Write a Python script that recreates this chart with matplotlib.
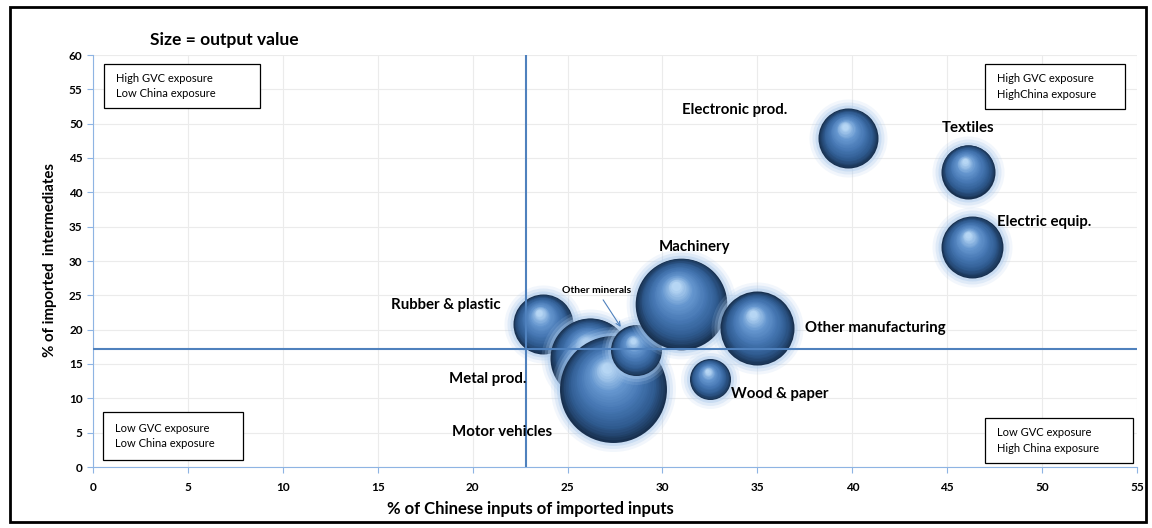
import numpy as np
import matplotlib.pyplot as plt
from matplotlib.colors import LinearSegmentedColormap
from matplotlib.patches import Rectangle

plt.rcParams['font.family'] = ['Lato', 'DejaVu Sans']

sectors = ["Rubber & plastic", "Metal prod.", "Motor vehicles", "Other minerals",
           "Machinery", "Other manufacturing", "Wood & paper",
           "Electronic prod.", "Textiles", "Electric equip."]
china_share = [23.7, 26.2, 27.4, 28.6, 31.0, 35.0, 32.5, 39.8, 46.1, 46.3]
imported_share = [20.8, 15.9, 11.4, 17.0, 23.8, 20.2, 12.8, 47.9, 43.0, 32.0]
output_value = [900, 1600, 2860, 650, 2100, 1370, 420, 900, 730, 960]

gvc_avg = 17.2
china_avg = 22.8

quadrants = ["High GVC exposure\nLow China exposure",
             "High GVC exposure\nHighChina exposure",
             "Low GVC exposure\nLow China exposure",
             "Low GVC exposure\nHigh China exposure"]

# label offsets in pixels from bubble centre
label_pos = {
    "Rubber & plastic": (-97, 19, "center"),
    "Metal prod.": (-103, -21, "center"),
    "Motor vehicles": (-111, -43, "center"),
    "Machinery": (13, 57, "center"),
    "Other manufacturing": (48, 0, "left"),
    "Wood & paper": (21, -15, "left"),
    "Electronic prod.": (-114, 28, "center"),
    "Textiles": (0, 44, "center"),
    "Electric equip.": (25, 25, "left"),
}

W, H = 1152, 528
fig = plt.figure(figsize=(W / 100, H / 100), dpi=100)
ax = fig.add_axes([93 / W, 1 - 467 / H, 1044 / W, 412 / H])
ax.set_xlim(0, 55)
ax.set_ylim(0, 60)
ax.set_xticks(np.arange(0, 56, 5))
ax.set_yticks(np.arange(0, 61, 5))
ax.grid(True, color='#ebebeb', lw=0.8)
ax.set_axisbelow(True)
for s in ['top', 'right']:
    ax.spines[s].set_visible(False)
for s in ['left', 'bottom']:
    ax.spines[s].set_color('#8eb4e3')
ax.tick_params(colors='#8eb4e3', labelcolor='black', length=4, labelsize=8.5)
for lab in ax.get_xticklabels() + ax.get_yticklabels():
    lab.set_fontweight('bold')
ax.tick_params(axis='x', pad=7)

shade = LinearSegmentedColormap.from_list('ball', ['#18304f', '#2f5b90', '#4677b3', '#6596cf', '#b6d6f4'])

px_to_pt = 72 / fig.dpi
trans = ax.transData
inv = trans.inverted()
N = 30
for i, name in enumerate(sectors):
    r = np.sqrt(output_value[i])  # radius in px
    cx, cy = trans.transform((china_share[i], imported_share[i]))
    z = 2 + i
    for g, a in [(9, 0.15), (6, 0.25), (3, 0.4)]:
        ax.scatter(china_share[i], imported_share[i], s=(2 * (r + g) * px_to_pt) ** 2,
                   color='#a9c9ec', alpha=a, lw=0, zorder=z)
    for k in range(N):
        t = k / (N - 1)
        rad = r * (1 - 0.9 * t)
        ox, oy = inv.transform((cx - 0.12 * r * t, cy + 0.38 * r * t))
        ax.scatter(ox, oy, s=(2 * rad * px_to_pt) ** 2, color=shade(t ** 0.9),
                   lw=0, zorder=z)
    if name in label_pos:
        dx, dy, ha = label_pos[name]
        ax.annotate(name, (china_share[i], imported_share[i]), xytext=(dx, dy),
                    textcoords='offset pixels', ha=ha, va='center',
                    fontsize=10.8, fontweight='bold', zorder=30)

mi = sectors.index("Other minerals")
ax.annotate("Other minerals", (china_share[mi], imported_share[mi]), xytext=(-39, 60),
            textcoords='offset pixels', ha='center', va='center', fontsize=7.5,
            fontweight='bold', zorder=30,
            arrowprops=dict(arrowstyle='->', color='#4f81bd', lw=0.8,
                            shrinkA=2, shrinkB=20))

ax.axhline(gvc_avg, color='#4f81bd', lw=1.5, zorder=25)
ax.axvline(china_avg, color='#4f81bd', lw=1.5, zorder=25)

# quadrant boxes (pixel extents of the boxes)
boxes = [(104, 64, 260, 108), (985, 64, 1125, 109), (103, 412, 243, 460), (985, 418, 1133, 463)]
for txt, (x0, y0, x1, y1) in zip(quadrants, boxes):
    fig.patches.append(Rectangle((x0 / W, 1 - y1 / H), (x1 - x0) / W, (y1 - y0) / H,
                                 transform=fig.transFigure, fc='white', ec='black',
                                 lw=0.9, zorder=40))
    fig.text((x0 + 12) / W, 1 - (y0 + y1) / 2 / H, txt, fontsize=8, va='center',
             ha='left', linespacing=1.55, zorder=41)

fig.text(150 / W, 1 - 40 / H, "Size = output value", fontsize=12.5,
         fontweight='bold', va='center')
fig.text(530 / W, 1 - 509 / H, "% of Chinese inputs of imported inputs",
         fontsize=12, fontweight='bold', ha='center', va='center')
fig.text(50 / W, 1 - 260 / H, "% of imported  intermediates", rotation=90,
         fontsize=10.8, fontweight='bold', ha='center', va='center')

fig.patches.append(Rectangle((10 / W, 6 / H), 1136 / W, 515 / H,
                             transform=fig.transFigure, fill=False, ec='black', lw=2))

fig.savefig('out.png', dpi=100)
